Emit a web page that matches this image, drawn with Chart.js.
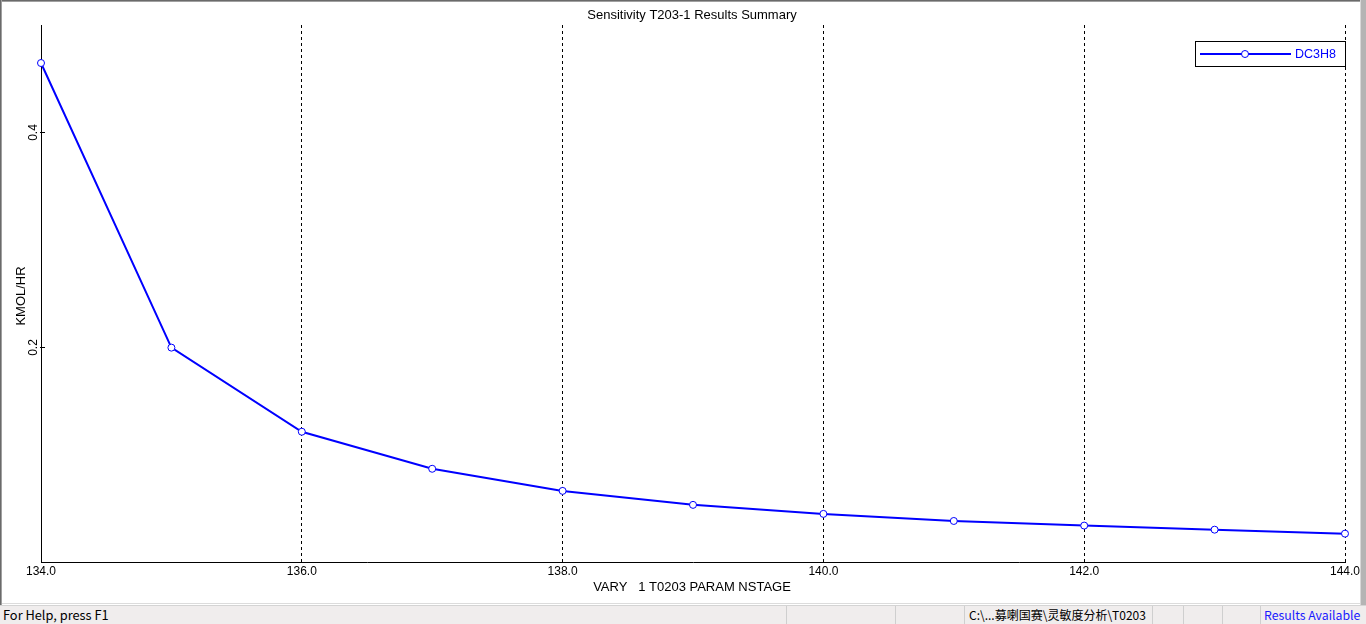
<!DOCTYPE html>
<html><head><meta charset="utf-8">
<script src="https://cdn.jsdelivr.net/npm/chart.js@4"></script>
<style>
html,body{margin:0;padding:0;width:1366px;height:624px;overflow:hidden;background:#fff;}
#c{position:absolute;left:0;top:0;}
.b{position:absolute;}
#status{position:absolute;left:0;top:605px;width:1366px;height:19px;background:#f0eded;border-top:1px solid #d4d4d4;font-family:'Noto Sans CJK SC','Noto Sans',sans-serif;font-size:12px;color:#000;box-sizing:border-box;}
#status span{position:absolute;top:0;line-height:18px;white-space:nowrap;}
#status i{position:absolute;top:0;width:1px;height:18px;background:#cfcfcf;}
</style>
</head><body>
<canvas id="c" width="1366" height="624"></canvas>
<div class="b" style="left:0;top:0;width:1366px;height:1px;background:#6a6a6a"></div>
<div class="b" style="left:0;top:1px;width:1366px;height:1px;background:#a0a0a0"></div>
<div class="b" style="left:0;top:0;width:1px;height:605px;background:#6a6a6a"></div>
<div class="b" style="left:1px;top:0;width:1px;height:605px;background:#a0a0a0"></div>
<div class="b" style="left:1360px;top:0;width:1px;height:605px;background:#d8d8d8"></div>
<div class="b" style="left:1361px;top:0;width:5px;height:624px;background:#b4b4b4"></div>
<div class="b" style="left:2px;top:603px;width:1358px;height:1px;background:#dcdcdc"></div>
<div id="status">
  <span style="left:3px;font-size:12.8px">For Help, press F1</span>
  <i style="left:786px"></i><i style="left:895px"></i><i style="left:964px"></i>
  <span style="left:969px">C:\...募喇国赛\灵敏度分析\T0203</span>
  <i style="left:1152px"></i><i style="left:1183px"></i><i style="left:1222px"></i><i style="left:1260px"></i>
  <span style="left:1264px;color:#1a1aff;font-size:12.3px">Results Available</span>
</div>
<script>
const chartTitle = 'Sensitivity T203-1 Results Summary';
const xAxisTitle = 'VARY   1 T0203 PARAM NSTAGE';
const yAxisTitle = 'KMOL/HR';
const seriesName = 'DC3H8';
const stages = [134, 135, 136, 137, 138, 139, 140, 141, 142, 143, 144];
const dc3h8 = [0.4646, 0.1996, 0.1213, 0.0868, 0.0662, 0.0532, 0.0448, 0.0382, 0.0339, 0.0301, 0.0264];
const xTickValues = [134, 136, 138, 140, 142, 144];
const yTickValues = [0.2, 0.4];

const FAM = '"Liberation Sans", Arial, sans-serif';
const BLUE = '#0000ff';

const textPlugin = {
  id: 'texts',
  afterDraw(chart) {
    const ctx = chart.ctx, xs = chart.scales.x, ys = chart.scales.y, a = chart.chartArea;
    ctx.save();
    ctx.fillStyle = '#000';
    ctx.textAlign = 'center';
    ctx.textBaseline = 'middle';
    // x axis line (solid)
    ctx.strokeStyle = '#000'; ctx.lineWidth = 1;
    const by = Math.round(a.bottom) + 0.5;
    ctx.beginPath(); ctx.moveTo(a.left, by); ctx.lineTo(a.right + 1, by); ctx.stroke();
    // title
    ctx.font = '13px ' + FAM;
    ctx.fillText(chartTitle, 692, 15);
    // x title
    ctx.fillText(xAxisTitle, 692, 587);
    // y title
    ctx.save(); ctx.translate(21.5, 296); ctx.rotate(-Math.PI / 2);
    ctx.fillText(yAxisTitle, 0, 0); ctx.restore();
    // x tick labels
    ctx.font = '12px ' + FAM;
    xTickValues.forEach(v => ctx.fillText(v.toFixed(1), xs.getPixelForValue(v), 572));
    // y ticks
    yTickValues.forEach(v => {
      const py = Math.round(ys.getPixelForValue(v)) + 0.5;
      ctx.beginPath(); ctx.moveTo(a.left - 1, py); ctx.lineTo(a.left + 4, py); ctx.stroke();
      ctx.save(); ctx.translate(34, py); ctx.rotate(-Math.PI / 2);
      ctx.fillText(v.toFixed(1), 0, 0); ctx.restore();
    });
    // legend
    const lx = 1195.5, lr = Math.round(xs.getPixelForValue(144)) + 0.5;
    ctx.fillStyle = '#fff';
    ctx.fillRect(lx, 41, lr - lx, 25);
    ctx.strokeStyle = '#000'; ctx.lineWidth = 1;
    ctx.strokeRect(lx, 41.5, lr - lx, 25);
    ctx.strokeStyle = BLUE; ctx.lineWidth = 2;
    ctx.beginPath(); ctx.moveTo(1200, 54); ctx.lineTo(1291, 54); ctx.stroke();
    ctx.fillStyle = '#fff'; ctx.lineWidth = 1;
    ctx.beginPath(); ctx.arc(1245, 54, 3.5, 0, Math.PI * 2); ctx.fill(); ctx.stroke();
    ctx.fillStyle = BLUE; ctx.textAlign = 'left';
    ctx.font = '12.5px ' + FAM;
    ctx.fillText(seriesName, 1295, 54.5);
    ctx.restore();
  }
};

new Chart(document.getElementById('c'), {
  type: 'line',
  data: {
    datasets: [{
      label: seriesName,
      data: stages.map((s, i) => ({x: s, y: dc3h8[i]})),
      borderColor: BLUE,
      borderWidth: 2,
      tension: 0,
      pointRadius: 3.5,
      pointBackgroundColor: '#fff',
      pointBorderColor: BLUE,
      pointBorderWidth: 1,
      clip: false
    }]
  },
  options: {
    responsive: false,
    animation: false,
    devicePixelRatio: 1,
    events: [],
    layout: { autoPadding: false, padding: { left: 41, top: 25, right: 21, bottom: 62 } },
    plugins: { legend: { display: false }, title: { display: false }, tooltip: { enabled: false } },
    scales: {
      x: {
        type: 'linear', min: 134, max: 144,
        afterBuildTicks: s => { s.ticks = xTickValues.map(v => ({value: v})); },
        ticks: { display: false },
        border: { display: false, dash: [3, 3] },
        grid: {
          drawTicks: false, tickLength: 0, lineWidth: 1,
          color: c => (c.tick && (c.tick.value === 134)) ? 'rgba(0,0,0,0)' : '#000',
          borderDash: [3, 3]
        }
      },
      y: {
        type: 'linear', min: 0, max: 0.5,
        afterBuildTicks: s => { s.ticks = yTickValues.map(v => ({value: v})); },
        ticks: { display: false },
        border: { display: true, color: '#000', width: 1 },
        grid: { display: false, drawTicks: false, tickLength: 0 }
      }
    }
  },
  plugins: [textPlugin]
});
</script>
</body></html>
